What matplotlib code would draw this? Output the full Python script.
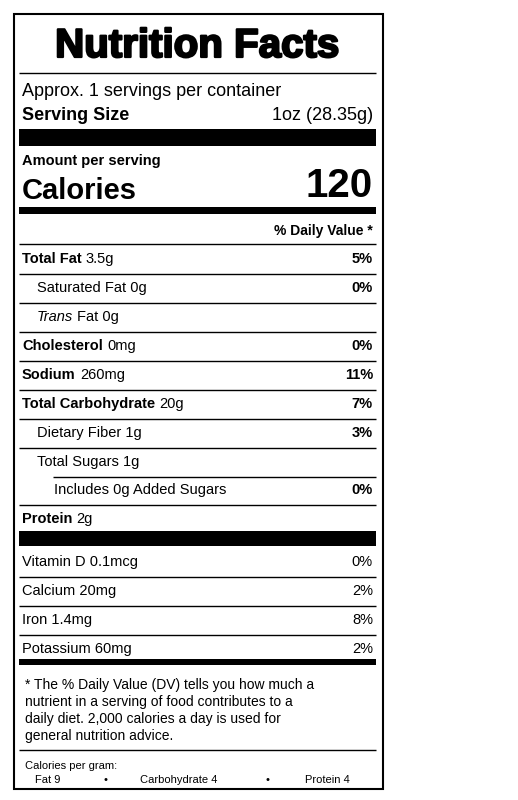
import matplotlib
matplotlib.use("Agg")
import matplotlib.pyplot as plt

plt.rcParams['font.family'] = ['Liberation Sans', 'DejaVu Sans']

title = "Nutrition Facts"
servings = "Approx. 1 servings per container"
serving_size = "1oz (28.35g)"
calories = "120"
rows_main = [  # (bold label, rest, dv, indent)
    ("Total Fat", " 3.5g", "5%", 0),
    ("", "Saturated Fat 0g", "0%", 1),
    ("", "TRANS", "", 1),
    ("Cholesterol", " 0mg", "0%", 0),
    ("Sodium", " 260mg", "11%", 0),
    ("Total Carbohydrate", " 20g", "7%", 0),
    ("", "Dietary Fiber 1g", "3%", 1),
    ("", "Total Sugars 1g", "", 1),
    ("", "Includes 0g Added Sugars", "0%", 2),
    ("Protein", " 2g", "", 0),
]
vitamins = ["Vitamin D 0.1mcg", "Calcium 20mg", "Iron 1.4mg", "Potassium 60mg"]
vit_dv = ["0%", "2%", "8%", "2%"]
footnote = ["* The % Daily Value (DV) tells you how much a",
            "nutrient in a serving of food contributes to a",
            "daily diet. 2,000 calories a day is used for",
            "general nutrition advice."]

fig = plt.figure(figsize=(5.18, 8), dpi=100)
ax = fig.add_axes([0, 0, 1, 1])
ax.set_xlim(0, 518); ax.set_ylim(800, 0); ax.axis('off')

L, R = 19, 376
ax.add_patch(plt.Rectangle((14, 14), 369, 775, fill=False, lw=1.5, ec='black'))

def hline(y, lw=1.0, x0=L):
    ax.plot([x0, R], [y, y], color='black', lw=lw, solid_capstyle='butt')

def bar(y0, y1):
    ax.add_patch(plt.Rectangle((L, y0), R - L, y1 - y0, color='black', lw=0))

t = ax.text(197, 46, title, fontsize=29, fontweight='heavy', ha='center', va='center')
t.set_path_effects([])
import matplotlib.patheffects as pe
t.set_path_effects([pe.withStroke(linewidth=1.6, foreground='black')])
hline(73)
ax.text(22, 91, servings, fontsize=13, va='center')
ax.text(22, 116, "Serving Size", fontsize=13, fontweight='bold', va='center')
ax.text(373, 116, serving_size, fontsize=13, ha='right', va='center')
bar(129, 146)
ax.text(22, 161, "Amount per serving", fontsize=10.5, fontweight='bold', va='center')
ax.text(22, 191, "Calories", fontsize=21, fontweight='bold', va='center')
ax.text(373, 186, calories, fontsize=29, fontweight='bold', ha='right', va='center')
bar(207, 214)
ax.text(373, 231, "% Daily Value *", fontsize=10, fontweight='bold', ha='right', va='center')
hline(244)

fs = 10.5
steps = [29, 29, 29, 29, 29, 29, 29, 28, 29, 0]
y = 259
for i, (b, rest, dv, ind) in enumerate(rows_main):
    x = 22 + [0, 15, 32][ind]
    if rest == "TRANS":
        t = ax.text(x, y, "Trans", fontsize=fs, style='italic', va='center')
        ax.annotate("Fat 0g", xycoords=t, xy=(1, 0), xytext=(3, 0),
                    textcoords='offset points', va='bottom', fontsize=fs)
    elif b:
        t = ax.text(x, y, b, fontsize=fs, fontweight='bold', va='center')
        ax.annotate(rest.strip(), xycoords=t, xy=(1, 0), xytext=(3, 0),
                    textcoords='offset points', va='bottom', fontsize=fs)
    else:
        ax.text(x, y, rest, fontsize=fs, va='center')
    if dv:
        ax.text(373, y, dv, fontsize=fs, fontweight='bold', ha='right', va='center')
    if i < len(rows_main) - 1:
        hline(y + 14.5, x0=53 if i == 7 else L)
    y += steps[i]

bar(531, 546)
y = 562
for i, (v, d) in enumerate(zip(vitamins, vit_dv)):
    ax.text(22, y, v, fontsize=fs, va='center')
    ax.text(373, y, d, fontsize=fs, ha='right', va='center')
    if i < 3:
        hline(y + 14.5)
    y += 29
bar(659, 665)
for i, f in enumerate(footnote):
    ax.text(25, 685 + 17 * i, f, fontsize=10, va='center')
hline(750)
ax.text(25, 766, "Calories per gram:", fontsize=8, va='center')
ax.text(35, 780, "Fat 9", fontsize=8, va='center')
ax.text(103, 780, "•", fontsize=8, va='center')
ax.text(140, 780, "Carbohydrate 4", fontsize=8, va='center')
ax.text(265, 780, "•", fontsize=8, va='center')
ax.text(305, 780, "Protein 4", fontsize=8, va='center')

fig.savefig("out.png", dpi=100)
